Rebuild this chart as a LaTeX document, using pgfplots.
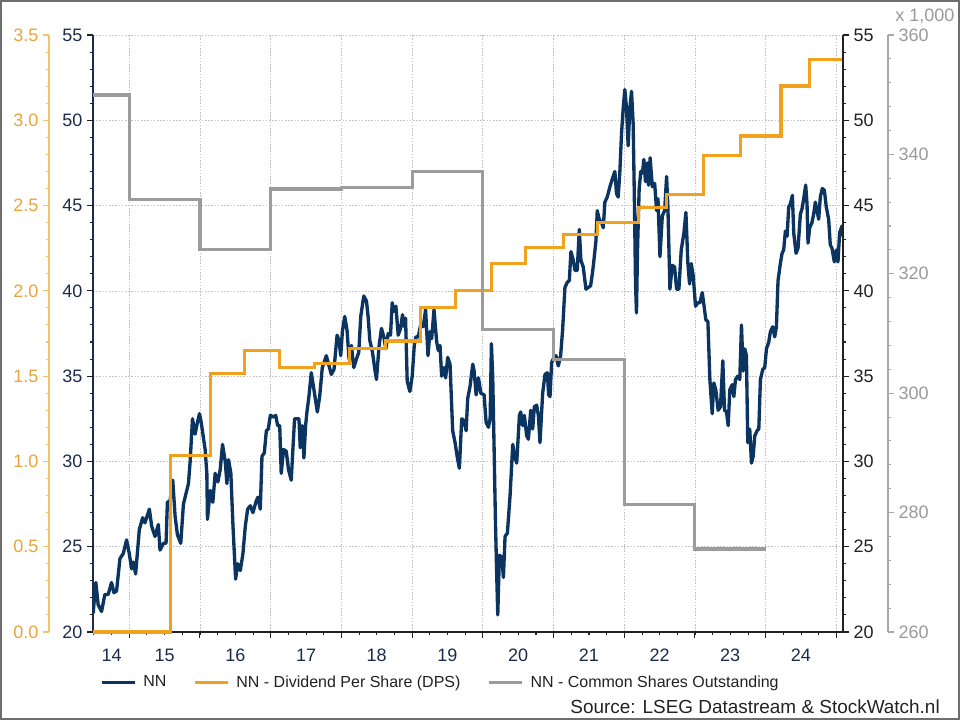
\documentclass[border=0pt]{standalone}
\usepackage{fontspec}
\setmainfont{Liberation Sans}
\usepackage{pgfplots}
\pgfplotsset{compat=1.18}
\definecolor{navy}{HTML}{0C3461}
\definecolor{dpsor}{HTML}{F0A21E}
\definecolor{shgray}{HTML}{9C9C9C}
\definecolor{orlab}{HTML}{E8A53C}
\definecolor{orax}{HTML}{F3C46C}
\definecolor{graylab}{HTML}{9A9A9A}
\definecolor{grayax}{HTML}{A8A8A8}
\definecolor{navylab}{HTML}{1C2B4B}
\definecolor{darklab}{HTML}{222222}
\definecolor{gridc}{HTML}{C4C4C4}
\definecolor{framec}{HTML}{6E6E6E}

\pgfplotsset{
 base/.style={
  scale only axis, width=562.5pt, height=447.75pt,
  at={(69.75pt,66pt)}, anchor=south west,
  xmin=2014.487, xmax=2025.095,
 },
 ticky/.style={
   tick align=outside, major tick length=4.5pt, minor tick length=2.6pt,
   /pgf/number format/assume math mode=true,
   tick label style={font=\fontsize{13.5}{16}\selectfont},
   axis line style={-},
 }
}

\begin{document}
\begin{tikzpicture}
\useasboundingbox (0,0) rectangle (720pt,540pt);
\fill[white] (0,0) rectangle (720pt,540pt);
\draw[framec, line width=1.5pt] (0.75pt,0.75pt) rectangle (719.25pt,539.25pt);

\begin{axis}[base, ticky,
  ymin=20, ymax=55,
  axis x line*=bottom, axis y line*=left,
  xtick={2015,2016,...,2025}, xticklabels={},
  minor xtick={2014.5,2014.75,...,2025},
  extra x ticks={2014.75,2015.5,2016.5,...,2024.5},
  extra x tick labels={14,15,16,17,18,19,20,21,22,23,24},
  extra x tick style={grid=none, tick style={draw=none}},
  ytick={20,25,...,55}, minor y tick num=4,
  xmajorgrids, ymajorgrids,
  grid style={gridc, line width=0.5pt, dash pattern=on 1.2pt off 1.2pt},
  x axis line style={darklab, line width=0.9pt},
  y axis line style={navylab, line width=0.9pt},
  tick style={darklab, line width=0.8pt},
  xticklabel style={text=navylab, yshift=-4.5pt},
  yticklabel style={text=navylab},
  legend columns=3,
  legend style={draw=none, fill=none, at={(0.00933,-0.0845)}, anchor=west,
    font=\fontsize{12}{14}\selectfont, text=darklab, inner sep=0pt,
    /tikz/every even column/.append style={column sep=18.5pt},
    /tikz/every odd column/.append style={column sep=3pt}},
  legend image code/.code={\draw[#1] (0pt,0pt) -- (24.75pt,0pt);},
]
\addplot[navy, line width=2.5pt, line join=round] coordinates {
(2014.489,21.1) (2014.527,22.9) (2014.560,21.6) (2014.608,21.2) (2014.655,22.2)
(2014.702,22.2) (2014.749,22.9) (2014.783,22.3) (2014.820,22.4) (2014.868,24.3)
(2014.915,24.6) (2014.962,25.4) (2015.000,24.6) (2015.033,23.7) (2015.057,24.1)
(2015.090,23.4) (2015.142,26.0) (2015.189,26.7) (2015.222,26.4) (2015.284,27.2)
(2015.317,26.2) (2015.364,25.6) (2015.411,26.3) (2015.435,24.8) (2015.482,25.2)
(2015.520,25.2) (2015.539,27.6) (2015.577,27.7) (2015.615,28.9) (2015.648,26.8)
(2015.681,25.7) (2015.728,25.2) (2015.766,27.5) (2015.837,28.7) (2015.861,30.0)
(2015.894,32.5) (2015.931,31.6) (2015.965,32.3) (2015.993,32.8) (2016.017,32.3)
(2016.073,30.7) (2016.097,29.3) (2016.106,26.6) (2016.144,28.3) (2016.182,27.6)
(2016.215,29.3) (2016.253,28.8) (2016.286,29.5) (2016.319,31.0) (2016.357,30.0)
(2016.381,28.7) (2016.404,30.1) (2016.437,29.3) (2016.466,26.3) (2016.504,23.1)
(2016.532,24.0) (2016.570,23.6) (2016.608,24.6) (2016.641,26.2) (2016.674,27.2)
(2016.712,27.4) (2016.749,27.0) (2016.797,27.7) (2016.820,27.9) (2016.853,27.2)
(2016.877,30.3) (2016.910,30.5) (2016.939,31.8) (2016.967,31.9) (2016.995,32.7)
(2017.043,32.6) (2017.071,32.7) (2017.099,32.1) (2017.128,32.1)
(2017.149,29.3) (2017.182,30.7) (2017.220,30.6) (2017.253,29.5) (2017.291,28.9)
(2017.314,30.7) (2017.338,32.5) (2017.371,32.5) (2017.400,32.5) (2017.418,30.8)
(2017.447,32.1) (2017.470,30.2) (2017.494,32.1) (2017.513,32.9) (2017.541,33.8)
(2017.574,35.2) (2017.612,34.2) (2017.660,32.9) (2017.693,33.8) (2017.730,35.5)
(2017.787,36.2) (2017.825,35.6) (2017.858,35.1) (2017.896,35.4) (2017.939,37.4)
(2017.967,37.1) (2017.991,36.2) (2018.014,37.6) (2018.047,38.5) (2018.080,37.7)
(2018.109,36.0) (2018.142,36.8) (2018.175,35.5) (2018.213,36.0) (2018.246,36.4)
(2018.274,38.5) (2018.317,39.7) (2018.355,39.4) (2018.378,38.5) (2018.402,37.1)
(2018.440,36.4) (2018.473,35.4) (2018.496,34.8) (2018.534,36.8) (2018.567,37.8)
(2018.600,37.3) (2018.629,36.6) (2018.662,37.5) (2018.695,37.4) (2018.719,39.3)
(2018.742,38.8) (2018.771,39.1) (2018.804,37.4) (2018.837,37.8) (2018.865,38.6)
(2018.889,37.9) (2018.908,38.4) (2018.931,34.7) (2018.969,34.1) (2019.002,35.0)
(2019.031,36.8) (2019.054,37.3) (2019.087,37.3) (2019.121,38.0) (2019.158,37.9)
(2019.191,38.9) (2019.225,36.2) (2019.253,37.6) (2019.277,37.2) (2019.310,38.9)
(2019.348,37.0) (2019.371,36.5) (2019.395,36.8) (2019.418,35.0) (2019.452,35.5)
(2019.475,34.9) (2019.504,36.1) (2019.537,35.7) (2019.574,31.8) (2019.608,31.1)
(2019.641,30.2) (2019.669,29.6) (2019.702,32.5) (2019.735,32.4) (2019.764,31.8)
(2019.787,33.7) (2019.820,34.4) (2019.858,35.7)
(2019.878,35.3) (2019.906,33.9) (2019.939,34.9) (2019.972,34.0) (2020.019,33.9)
(2020.047,32.3) (2020.080,32.0) (2020.104,32.5) (2020.122,36.9) (2020.141,34.9)
(2020.160,30.8) (2020.179,26.5) (2020.198,23.2) (2020.212,21.0) (2020.235,24.5)
(2020.268,24.4) (2020.292,23.2) (2020.315,25.6) (2020.348,25.8) (2020.386,28.0)
(2020.424,31.0) (2020.456,30.2) (2020.480,29.9) (2020.518,32.7) (2020.536,32.9)
(2020.565,32.1) (2020.588,32.7) (2020.621,31.5) (2020.645,31.3) (2020.678,33.0)
(2020.706,31.9) (2020.729,33.2) (2020.762,33.3) (2020.786,32.7) (2020.809,31.1)
(2020.847,34.0) (2020.880,35.1) (2020.913,35.2) (2020.932,33.9) (2020.951,33.8)
(2020.974,35.8) (2021.007,36.1) (2021.035,36.2) (2021.068,35.6) (2021.101,36.2)
(2021.129,37.7) (2021.162,40.2) (2021.195,40.5) (2021.224,40.6) (2021.247,42.3)
(2021.280,41.8) (2021.304,41.2) (2021.336,41.2) (2021.365,43.6) (2021.388,41.8)
(2021.421,41.4) (2021.459,40.1) (2021.492,40.2) (2021.525,40.3) (2021.553,41.1)
(2021.572,41.8) (2021.600,42.9) (2021.619,44.7) (2021.647,44.2) (2021.680,44.0)
(2021.704,43.7) (2021.727,45.2) (2021.760,45.5) (2021.798,46.1) (2021.835,46.6)
(2021.868,47.0) (2021.892,45.7) (2021.915,45.5) (2021.939,47.0) (2021.962,49.2)
(2021.986,50.7) (2022.009,51.8) (2022.033,50.7) (2022.056,48.5) (2022.080,50.7)
(2022.104,51.7) (2022.127,49.8) (2022.146,44.9) (2022.160,40.5) (2022.174,38.7)
(2022.188,42.3) (2022.212,46.0) (2022.235,47.0) (2022.259,46.9) (2022.278,47.7)
(2022.301,46.4) (2022.325,47.5) (2022.344,46.2) (2022.367,47.8)
(2022.398,46.1) (2022.431,46.3) (2022.459,44.7) (2022.478,45.4) (2022.506,42.0)
(2022.539,44.4) (2022.572,44.7) (2022.600,46.7) (2022.619,44.8) (2022.647,40.1)
(2022.680,41.5) (2022.713,41.4) (2022.741,40.1) (2022.774,40.1) (2022.807,42.4)
(2022.845,43.4) (2022.873,44.6) (2022.901,41.6) (2022.925,40.4) (2022.948,41.6)
(2022.976,40.9) (2023.009,39.1) (2023.042,39.3) (2023.071,39.3) (2023.104,39.9)
(2023.127,39.2) (2023.155,38.3) (2023.184,38.2) (2023.212,34.8) (2023.245,32.8)
(2023.268,34.6) (2023.296,34.2) (2023.329,33.0) (2023.362,33.2) (2023.395,35.9)
(2023.419,33.0) (2023.447,32.9) (2023.471,32.1) (2023.494,34.2) (2023.527,34.5)
(2023.551,33.8) (2023.574,34.8) (2023.607,35.0) (2023.635,34.8) (2023.659,38.0)
(2023.682,35.3) (2023.706,36.6) (2023.729,36.2) (2023.748,31.1) (2023.776,31.9)
(2023.800,29.9) (2023.824,30.3) (2023.847,31.5) (2023.880,31.8) (2023.904,31.9)
(2023.927,34.8) (2023.960,35.4) (2023.988,35.5) (2024.012,36.6) (2024.045,37.0)
(2024.068,37.6) (2024.101,37.9) (2024.129,37.3) (2024.153,37.9) (2024.176,40.6)
(2024.209,41.6) (2024.233,42.2) (2024.256,42.4) (2024.280,43.5) (2024.304,43.2)
(2024.327,44.9) (2024.351,45.1) (2024.379,45.6) (2024.398,43.4) (2024.431,42.2)
(2024.459,42.5) (2024.492,44.5) (2024.515,44.8) (2024.539,45.4) (2024.567,46.2)
(2024.586,45.1) (2024.600,42.8) (2024.624,43.7) (2024.656,44.0) (2024.680,44.5)
(2024.704,45.2) (2024.727,44.7) (2024.751,44.2) (2024.774,45.5) (2024.802,46.0)
(2024.831,45.9) (2024.859,44.9) (2024.892,44.2) (2024.915,42.7) (2024.939,42.5)
(2024.972,41.7) (2025.000,42.4) (2025.024,41.7) (2025.047,43.4) (2025.080,43.8)
(2025.095,43.2)
};
\addlegendimage{dpsor, line width=2.3pt}
\addlegendimage{shgray, line width=2.3pt}
\legend{NN, NN - Dividend Per Share (DPS), NN - Common Shares Outstanding}
\end{axis}

\begin{axis}[base, hide axis, clip=false, ymin=0, ymax=3.5]
\addplot[const plot, dpsor, line width=2.3pt] coordinates {
(2014.487,0) (2015.586,1.033) (2016.154,1.514) (2016.631,1.651) (2017.128,1.549)
(2017.622,1.573) (2018.118,1.661) (2018.629,1.706) (2019.121,1.902) (2019.617,2.004)
(2020.127,2.158) (2020.598,2.255) (2021.139,2.331) (2021.619,2.400) (2022.198,2.491)
(2022.600,2.564) (2023.127,2.793) (2023.645,2.908) (2024.218,3.201) (2024.618,3.357)
(2025.095,3.357)
};
\end{axis}

\begin{axis}[base, hide axis, ymin=260, ymax=360]
\addplot[const plot, shgray, line width=2.3pt] coordinates {
(2014.487,349.95) (2015.0,332.5) (2016.0,324.0) (2017.0,334.2) (2018.0,334.5)
(2019.0,337.1) (2020.0,310.6) (2021.0,305.7) (2022.0,281.4) (2023.0,273.9) (2024.0,273.9)
};
\end{axis}

\begin{axis}[base, ticky, ymin=20, ymax=55, axis x line=none, axis y line*=right,
  ytick={20,25,...,55}, minor y tick num=4,
  y axis line style={darklab, line width=0.9pt}, tick style={darklab, line width=0.8pt},
  yticklabel style={text=darklab}]
\end{axis}

\begin{axis}[scale only axis, width=1pt, height=447.75pt, at={(36.75pt,66pt)}, anchor=south west,
  xmin=0, xmax=1, ymin=0, ymax=3.5, ticky, axis x line=none, axis y line*=left,
  ytick={0,0.5,...,3.5}, minor y tick num=4,
  y axis line style={orax, line width=0.8pt}, tick style={orax, line width=0.8pt},
  yticklabel style={text=orlab, /pgf/number format/.cd, fixed, fixed zerofill, precision=1}]
\end{axis}

\begin{axis}[scale only axis, width=1pt, height=447.75pt, at={(666pt,66pt)}, anchor=south east,
  xmin=0, xmax=1, ymin=260, ymax=360, ticky, axis x line=none, axis y line*=right,
  ytick={260,280,...,360}, minor y tick num=4,
  y axis line style={grayax, line width=0.8pt}, tick style={grayax, line width=0.8pt},
  yticklabel style={text=graylab}]
\end{axis}

\node[anchor=base east, inner sep=0pt, text=darklab, font=\fontsize{14.2}{17}\selectfont] at (705pt,4.95pt) {Source: LSEG Datastream \& StockWatch.nl};
\node[anchor=base west, inner sep=0pt, text=graylab, font=\fontsize{13.5}{16}\selectfont] at (671.25pt,523.9pt) {x 1,000};
\end{tikzpicture}
\end{document}
